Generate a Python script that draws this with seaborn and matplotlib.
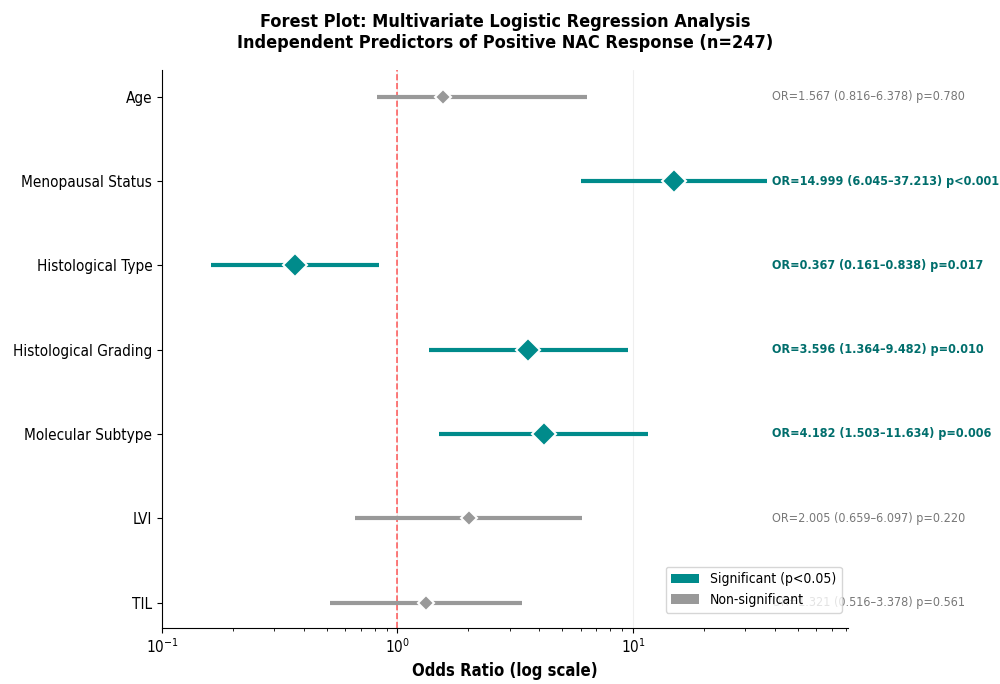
import numpy as np
import pandas as pd
import seaborn as sns
import matplotlib.pyplot as plt
from matplotlib.patches import Patch

variables = ["Age", "Menopausal Status", "Histological Type", "Histological Grading",
             "Molecular Subtype", "LVI", "TIL"]
odds_ratio = [1.567, 14.999, 0.367, 3.596, 4.182, 2.005, 1.321]
ci_low = [0.816, 6.045, 0.161, 1.364, 1.503, 0.659, 0.516]
ci_high = [6.378, 37.213, 0.838, 9.482, 11.634, 6.097, 3.378]
p_values = [0.780, 0.0005, 0.017, 0.010, 0.006, 0.220, 0.561]
p_labels = ["p=0.780", "p<0.001", "p=0.017", "p=0.010", "p=0.006", "p=0.220", "p=0.561"]

SIG_COLOR = "#008B8B"
SIG_TEXT = "#006E6C"
NS_COLOR = "#999999"
NS_TEXT = "#777777"

df = pd.DataFrame({"variable": variables, "OR": odds_ratio, "low": ci_low,
                   "high": ci_high, "p": p_values, "p_label": p_labels})
df["pos"] = np.arange(len(df))
df["significant"] = df["p"] < 0.05

sns.set_style("ticks")
# narrow glyphs, like the reference
plt.rcParams['font.family'] = ['DejaVu Sans']
plt.rcParams['font.stretch'] = 'condensed'
for key in ["text.color", "axes.labelcolor", "xtick.color", "ytick.color", "axes.edgecolor"]:
    plt.rcParams[key] = "black"

fig, ax = plt.subplots(figsize=(10, 6.84), dpi=100)
fig.subplots_adjust(left=0.162, right=0.848, top=0.898, bottom=0.082)

ax.axvline(1, color="red", linestyle="--", linewidth=1.2, alpha=0.6, zorder=1)

for _, row in df.iterrows():
    sig = row["significant"]
    color = SIG_COLOR if sig else NS_COLOR
    ax.hlines(row["pos"], row["low"], row["high"], color=color, linewidth=3, zorder=2)
    ax.plot(row["OR"], row["pos"], marker="D", markersize=12 if sig else 8,
            color=color, markeredgecolor="white", markeredgewidth=1.5, zorder=3)

text_x = max(ci_high) * 1.05
for _, row in df.iterrows():
    sig = row["significant"]
    label = f"OR={row['OR']:.3f} ({row['low']:.3f}\u2013{row['high']:.3f}) {row['p_label']}"
    ax.text(text_x, row["pos"], label, va="center", ha="left", fontsize=9,
            color=SIG_TEXT if sig else NS_TEXT,
            fontweight="bold" if sig else "normal")

ax.set_xscale("log")
ax.set_xlim(0.1, max(ci_high) * 2.2)
ax.set_ylim(6.3, -0.32)
ax.set_yticks(df["pos"])
ax.set_yticklabels(df["variable"], fontsize=11)
ax.tick_params(axis="x", labelsize=11)
ax.xaxis.grid(True, alpha=0.3)
ax.set_axisbelow(True)
sns.despine(ax=ax)

ax.set_xlabel("Odds Ratio (log scale)", fontsize=12, fontweight="bold")
ax.set_title("Forest Plot: Multivariate Logistic Regression Analysis\n"
             "Independent Predictors of Positive NAC Response (n=247)",
             fontsize=13, fontweight="bold", pad=16)

handles = [Patch(facecolor=SIG_COLOR, edgecolor="none", label="Significant (p<0.05)"),
           Patch(facecolor=NS_COLOR, edgecolor="none", label="Non-significant")]
ax.legend(handles=handles, loc="lower right", bbox_to_anchor=(1.0, 0.016),
          fontsize=10, frameon=True, borderaxespad=0.45)

fig.savefig("out.png", dpi=100)
plt.close(fig)
